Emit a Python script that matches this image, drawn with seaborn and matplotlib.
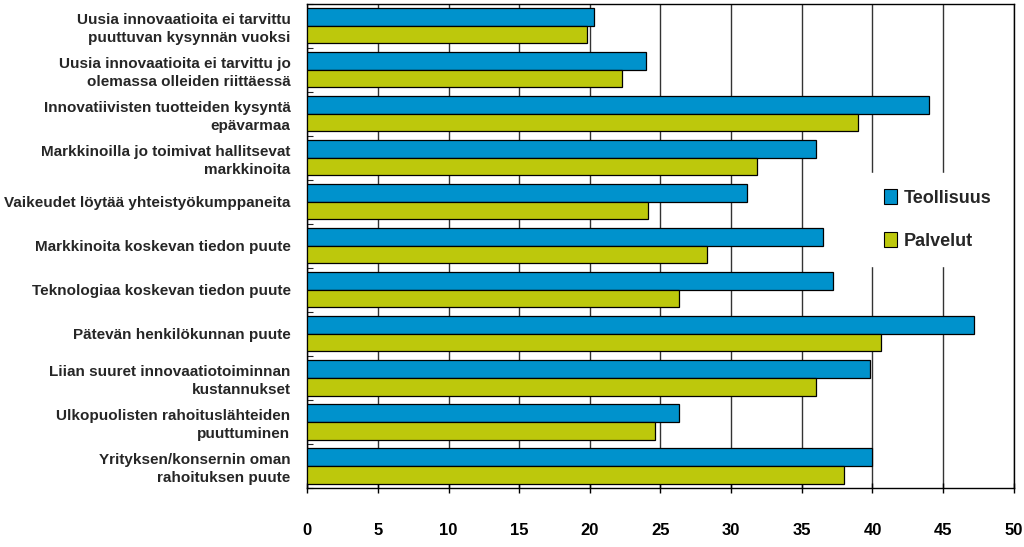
import numpy as np
import pandas as pd
import matplotlib
matplotlib.use("Agg")
import matplotlib.pyplot as plt
import seaborn as sns

categories = [
    "Uusia innovaatioita ei tarvittu\npuuttuvan kysynnän vuoksi",
    "Uusia innovaatioita ei tarvittu jo\nolemassa olleiden riittäessä",
    "Innovatiivisten tuotteiden kysyntä\nepävarmaa",
    "Markkinoilla jo toimivat hallitsevat\nmarkkinoita",
    "Vaikeudet löytää yhteistyökumppaneita",
    "Markkinoita koskevan tiedon puute",
    "Teknologiaa koskevan tiedon puute",
    "Pätevän henkilökunnan puute",
    "Liian suuret innovaatiotoiminnan\nkustannukset",
    "Ulkopuolisten rahoituslähteiden\npuuttuminen",
    "Yrityksen/konsernin oman\nrahoituksen puute",
]
teollisuus = [20.3, 24.0, 44.0, 36.0, 31.1, 36.5, 37.2, 47.2, 39.8, 26.3, 40.0]
palvelut = [19.8, 22.3, 39.0, 31.8, 24.1, 28.3, 26.3, 40.6, 36.0, 24.6, 38.0]
series = ["Teollisuus", "Palvelut"]
colors = ["#0092CC", "#BDC80C"]
xticks = list(range(0, 51, 5))

df = pd.DataFrame({
    "kategoria": categories * 2,
    "sarja": [series[0]] * len(categories) + [series[1]] * len(categories),
    "arvo": teollisuus + palvelut,
})

sns.set_style("white")
plt.rcParams["font.family"] = ["Liberation Sans", "DejaVu Sans"]

fig = plt.figure(figsize=(10.24, 5.47), dpi=100)
ax = fig.add_axes([0.300, 0.108, 0.690, 0.885])

sns.barplot(data=df, x="arvo", y="kategoria", hue="sarja", orient="h",
            palette=colors, saturation=1, edgecolor="black", linewidth=0.9,
            width=0.8, ax=ax, zorder=3)

ax.set_xlim(0, 50)
ax.set_xticks(xticks)
ax.set_xticklabels([str(t) for t in xticks], fontweight="bold", fontsize=12)
ax.tick_params(axis="x", direction="inout", length=7, width=1, pad=22,
               bottom=True, colors="black")
ax.tick_params(axis="y", length=0, pad=12)
for lab in ax.get_yticklabels():
    lab.set_fontweight("bold")
    lab.set_fontsize(11)
    lab.set_linespacing(1.3)
    lab.set_multialignment("right")

# small marks between the groups
ax.set_yticks(np.arange(-0.5, len(categories), 1), minor=True)
ax.tick_params(axis="y", which="minor", direction="in", length=4,
               width=0.8, left=True)

ax.grid(axis="x", color="#333333", linewidth=1, zorder=0)
ax.set_axisbelow(True)
ax.set_xlabel("")
ax.set_ylabel("")
for s in ax.spines.values():
    s.set_color("black")
    s.set_linewidth(1)

leg = ax.legend(loc="center left", bbox_to_anchor=(0.78, 0.555),
                frameon=True, fancybox=False, edgecolor="white",
                framealpha=1, handlelength=0.75, handleheight=0.9,
                handletextpad=0.35, labelspacing=1.4, borderpad=0.9,
                prop={"weight": "bold", "size": 13})
for h in leg.legend_handles:
    h.set_edgecolor("black")
    h.set_linewidth(0.8)

fig.savefig("out.png", dpi=100)
